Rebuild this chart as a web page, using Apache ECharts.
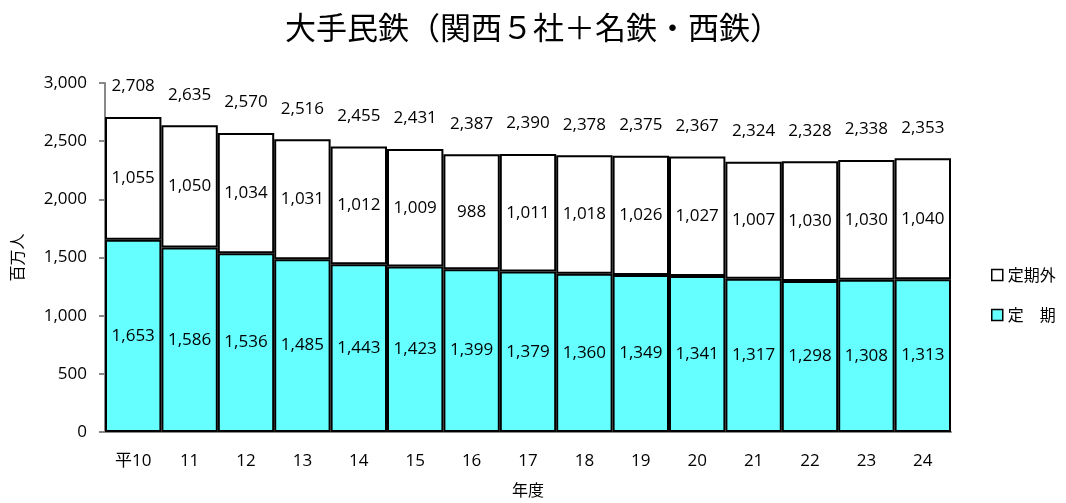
<!DOCTYPE html>
<html><head><meta charset="utf-8">
<script src="https://cdn.jsdelivr.net/npm/echarts@6/dist/echarts.min.js"></script>
<style>html,body{margin:0;padding:0;background:#fff}#c{width:1066px;height:503px}</style>
</head><body><div id="c"></div>
<script>
const categories = ['平10','11','12','13','14','15','16','17','18','19','20','21','22','23','24'];
const teiki = [1653,1586,1536,1485,1443,1423,1399,1379,1360,1349,1341,1317,1298,1308,1313];
const teikigai = [1055,1050,1034,1031,1012,1009,988,1011,1018,1026,1027,1007,1030,1030,1040];
const totals = [2708,2635,2570,2516,2455,2431,2387,2390,2378,2375,2367,2324,2328,2338,2353];
const yTicks = {min:0, max:3000, interval:500};

const FONT = "'Open Sans', 'Noto Sans CJK JP', sans-serif";
const JP = "'Noto Sans CJK JP', sans-serif";
const fmt = v => v.toLocaleString('en-US');
const chart = echarts.init(document.getElementById('c'));
chart.setOption({
  animation:false,
  textStyle:{fontFamily:FONT},
  title:{text:'大手民鉄（関西５社＋名鉄・西鉄）', left:'center', top:7,
    textStyle:{fontFamily:JP, fontSize:31, fontWeight:'normal', color:'#000'}},
  grid:{left:105, right:115, top:83, bottom:71, outerBoundsMode:'none', containLabel:false},
  legend:{orient:'vertical', left:986, top:262, itemGap:24, itemWidth:11, itemHeight:11, icon:'rect',
    itemStyle:{borderColor:'#000', borderWidth:1.5},
    data:['定期外','定　期'], textStyle:{fontSize:16, color:'#000', fontFamily:JP}},
  xAxis:{type:'category', data:categories, name:'年度', nameLocation:'middle', nameGap:50,
    nameTextStyle:{fontSize:16, color:'#000', fontFamily:JP},
    axisLine:{lineStyle:{color:'#888', width:2}}, axisTick:{show:false},
    axisLabel:{fontSize:17, color:'#000', margin:21}},
  yAxis:{type:'value', min:yTicks.min, max:yTicks.max, interval:yTicks.interval,
    name:'百万人', nameLocation:'middle', nameGap:80, nameRotate:90,
    nameTextStyle:{fontSize:16, color:'#000', fontFamily:JP},
    splitLine:{show:false},
    axisLine:{show:true, lineStyle:{color:'#888', width:2}},
    axisTick:{show:true, inside:false, length:6, lineStyle:{color:'#888', width:2}},
    axisLabel:{fontSize:17, color:'#000', margin:18, formatter:v=>fmt(v)}},
  series:[
    {name:'定　期', type:'bar', stack:'a', data:teiki, barCategoryGap:'0%',
      itemStyle:{color:'#66FFFF', borderColor:'#000', borderWidth:2},
      label:{show:true, position:'inside', fontSize:17, color:'#000', formatter:p=>fmt(p.value)}},
    {name:'定期外', type:'bar', stack:'a', data:teikigai, barCategoryGap:'0%',
      itemStyle:{color:'#fff', borderColor:'#000', borderWidth:2},
      label:{show:true, position:'inside', fontSize:17, color:'#000', formatter:p=>fmt(p.value)}},
    {name:'total', type:'bar', stack:'a', data:totals.map(()=>0), barCategoryGap:'0%',
      itemStyle:{color:'transparent'}, silent:true,
      label:{show:true, position:'top', distance:22, fontSize:17, color:'#000',
        formatter:p=>fmt(totals[p.dataIndex])}}
  ]
});
</script></body></html>
